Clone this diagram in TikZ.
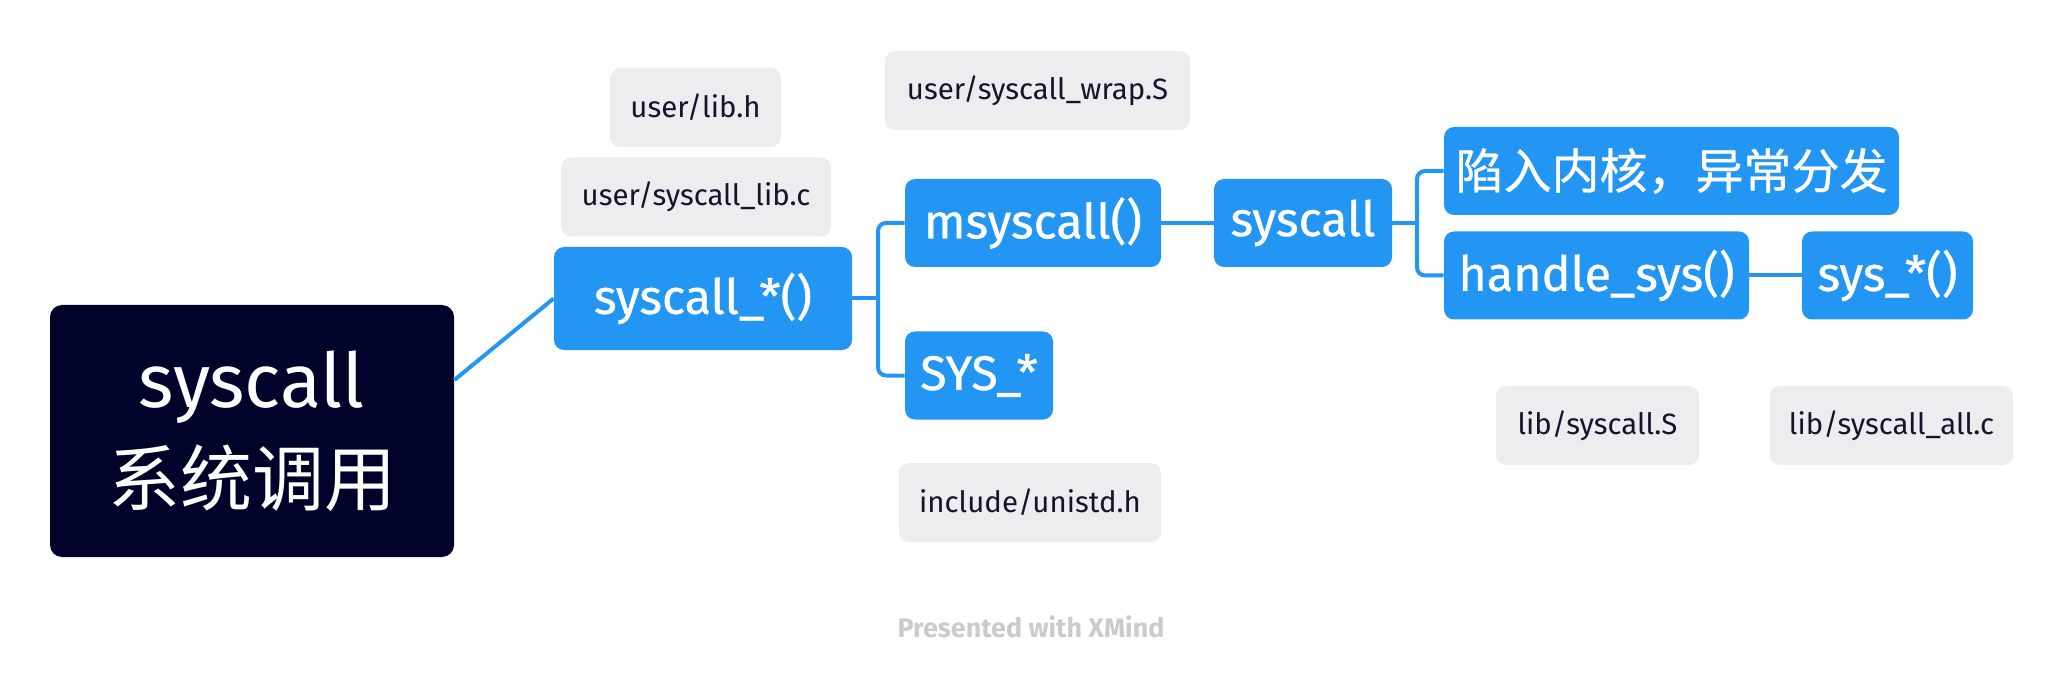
\documentclass[tikz,border=0pt]{standalone}
\usepackage{fontspec}
\setmainfont{Fira Sans}[Scale=1.05]
\newfontfamily\cjk{Noto Sans CJK SC}
\newfontfamily\topicfont{Fira Sans}[Scale=1.01, FakeBold=0.7]
\newfontfamily\topiccjk{Noto Sans CJK SC}[FakeBold=0.7]
\usepackage{tikz}
\definecolor{xblue}{HTML}{2396F3}
\definecolor{xnavy}{HTML}{000229}
\definecolor{xgray}{HTML}{EEECEF}
\definecolor{xtext}{HTML}{14142B}
\definecolor{xmark}{HTML}{CBCBCB}
\tikzset{
  rootnode/.style={rectangle, rounded corners=6pt, fill=xnavy, text=white, align=center, inner sep=0pt, font=\fontsize{36}{49}\selectfont},
  topic/.style={rectangle, rounded corners=5pt, fill=xblue, text=white, inner sep=0pt, minimum height=44pt, font=\topicfont\fontsize{24}{28}\selectfont},
  filebox/.style={rectangle, rounded corners=5pt, fill=xgray, text=xtext, inner sep=0pt, minimum height=39.5pt, font=\fontsize{14}{17}\selectfont},
  link/.style={draw=xblue, line width=2pt, rounded corners=4pt}
}

\begin{document}
\begin{tikzpicture}[x=0.5pt,y=-0.5pt]
  \useasboundingbox (0,0) rectangle (2064,678);
  % main topics
  \node[rootnode, minimum width=202pt, minimum height=126pt] (root) at (252,431) {syscall\\{\cjk 系统调用}};
  \node[topic, minimum width=149pt, minimum height=51.5pt] (star) at (703,298.5) {syscall\_*()};
  \node[topic, minimum width=128pt] (msys) at (1033,223) {msyscall()};
  \node[topic, minimum width=74pt] (sysu) at (979,375.5) {SYS\_*};
  \node[topic, minimum width=89pt] (sysc) at (1303,223) {syscall};
  \node[topic, minimum width=227.5pt] (trap) at (1671.5,171) {\topiccjk 陷入内核，异常分发};
  \node[topic, minimum width=152.5pt] (hand) at (1596.5,275.5) {handle\_sys()};
  \node[topic, minimum width=85.5pt] (sysl) at (1887.5,275.5) {sys\_*()};
  % source files
  \node[filebox, minimum width=85.5pt] (libh) at (695.5,107.5) {user/lib.h};
  \node[filebox, minimum width=135pt] (libc) at (696,197) {user/syscall\_lib.c};
  \node[filebox, minimum width=152.5pt] (wrap) at (1037.5,90.5) {user/syscall\_wrap.S};
  \node[filebox, minimum width=131pt] (unis) at (1030,502.5) {include/unistd.h};
  \node[filebox, minimum width=101.5pt] (asms) at (1597.5,425.5) {lib/syscall.S};
  \node[filebox, minimum width=121.5pt] (allc) at (1891.5,425.5) {lib/syscall\_all.c};
  \node[font=\bfseries\fontsize{12.8}{14}\selectfont, text=xmark] (mark) at (1031,627) {Presented with XMind};
  % connectors
  \coordinate (j1) at (878,298.5);
  \coordinate (j2) at (1417,223);
  \draw[link] (root.east |- 0,380) -- (star.west);
  \draw[link] (star.east) -- (j1);
  \draw[link] (msys.west) -| (j1) |- (sysu.west);
  \draw[link] (msys.east) -- (sysc.west);
  \draw[link] (sysc.east) -- (j2);
  \draw[link] (trap.west) -| (j2) |- (hand.west);
  \draw[link] (hand.east) -- (sysl.west);
\end{tikzpicture}
\end{document}
